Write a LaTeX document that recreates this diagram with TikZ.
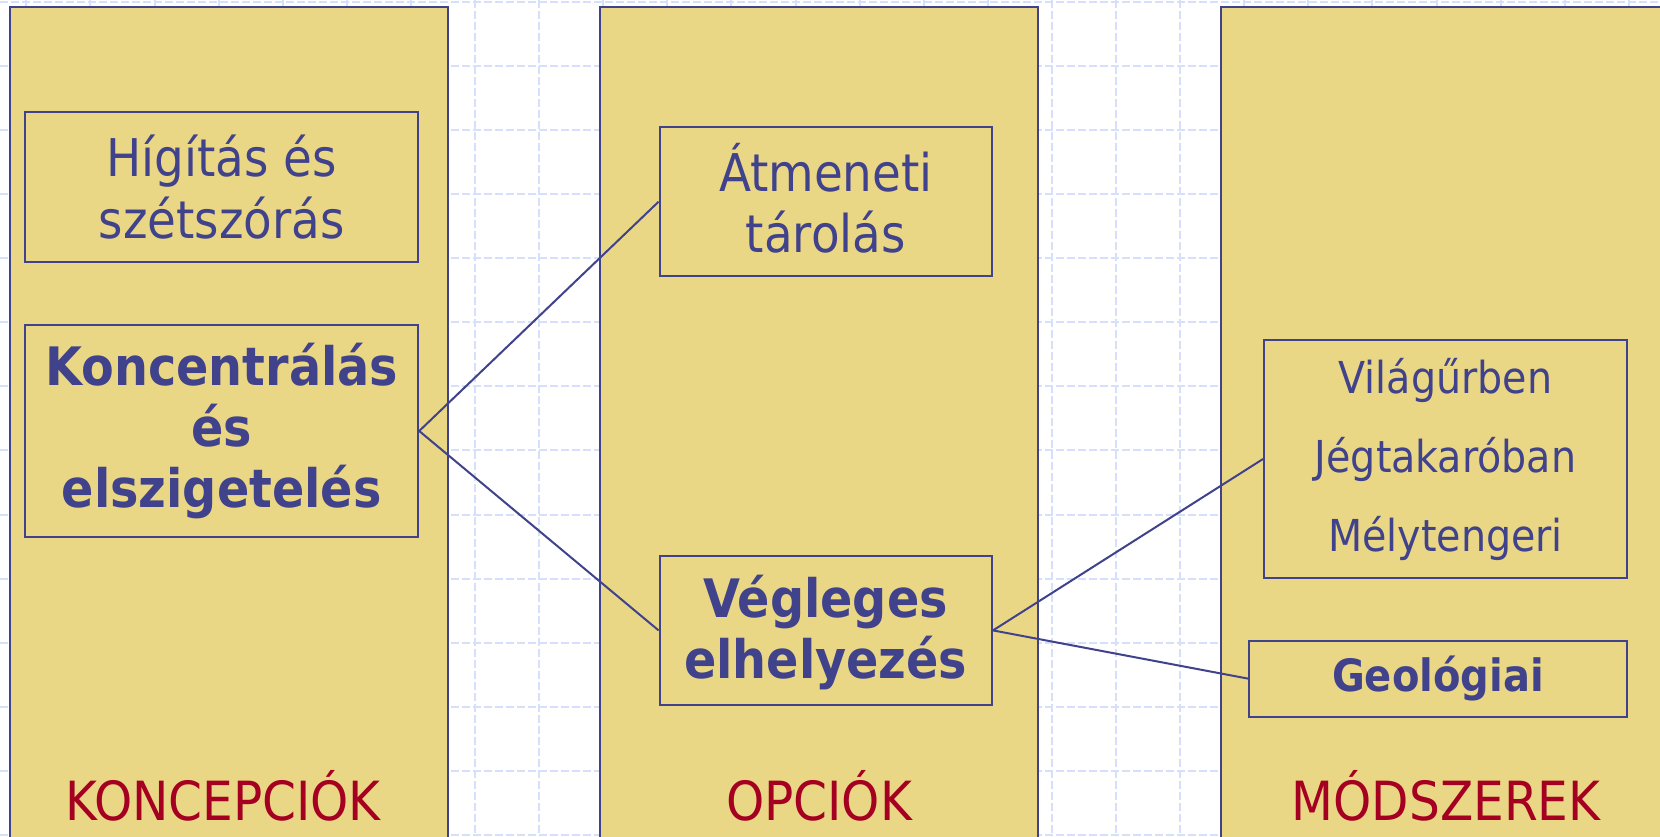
\documentclass[tikz,border=0pt]{standalone}
\usepackage{fontspec}
\setmainfont{DejaVu Sans Condensed}
\definecolor{panel}{RGB}{234,215,133}
\definecolor{ink}{RGB}{64,66,140}
\definecolor{title}{RGB}{165,0,33}
\definecolor{gridblue}{RGB}{212,224,252}
\tikzset{
  gridline/.style={draw=gridblue, line width=2pt, dash pattern=on 8pt off 3pt},
  column/.style={draw=ink, fill=panel, line width=2.4pt, rectangle, anchor=north west, inner sep=0pt},
  itembox/.style={draw=ink, fill=panel, line width=2pt, rectangle, inner sep=0pt, align=center, text=ink},
  plaintext/.style={inner sep=0pt, align=center, text=ink},
  big/.style={font=\fontsize{52}{61.4}\selectfont},
  bigbold/.style={font=\fontsize{53}{61}\selectfont\bfseries},
  small/.style={font=\fontsize{44}{79}\selectfont},
  smallbold/.style={font=\fontsize{44.5}{50}\selectfont\bfseries},
  heading/.style={text=title, anchor=base, font=\fontsize{54}{60}\selectfont, inner sep=0pt},
  conn/.style={draw=ink, line width=2pt},
}
\begin{document}
\begin{tikzpicture}[x=1pt,y=-1pt]
\useasboundingbox (0,0) rectangle (1660,836);
\fill[white] (0,0) rectangle (1660,836);
% background grid
\foreach \k in {-7,...,18} {
  \draw[gridline] ({475+64.1*\k},0) -- ({475+64.1*\k},836);
}
\foreach \k in {0,...,13} {
  \draw[gridline] (0,{1.7+64.1*\k}) -- (1660,{1.7+64.1*\k});
}
% three columns
\node[column, minimum width=438pt, minimum height=860pt] (c1) at (9,6) {};
\node[column, minimum width=437.5pt, minimum height=860pt] (c2) at (599,6) {};
\node[column, minimum width=440pt, minimum height=860pt] (c3) at (1219.6,6) {};
% items
\node[itembox, big, minimum width=392.8pt, minimum height=149.3pt] (hig) at (221.8,186.9) {Hígítás és\\szétszórás};
\node[itembox, bigbold, minimum width=392.8pt, minimum height=211.8pt] (kon) at (221.8,431) {Koncentrálás\\és\\elszigetelés};
\node[itembox, minimum width=332.4pt, minimum height=149.3pt] (atm) at (825.8,201.7) {};
\node[plaintext, big] (atmtext) at (825.8,198.5) {Átmeneti\\tárolás};
\node[itembox, bigbold, minimum width=332.4pt, minimum height=149.2pt] (veg) at (825.8,630.4) {};
\node[plaintext, bigbold] (vegtext) at (825.8,633) {Végleges\\elhelyezés};
\node[itembox, small, minimum width=363pt, minimum height=238pt] (vil) at (1445.5,459) {Világűrben\\Jégtakaróban\\Mélytengeri};
\node[itembox, smallbold, minimum width=378pt, minimum height=76pt] (geo) at (1438,678.6) {Geológiai};
% connectors
\draw[conn] (kon.east) -- (atm.west);
\draw[conn] (kon.east) -- (veg.west);
\draw[conn] (veg.east) -- (vil.west);
\draw[conn] (veg.east) -- (geo.west);
% column headings
\node[heading] (h1) at (223,820.5) {KONCEPCIÓK};
\node[heading] (h2) at (819,820.5) {OPCIÓK};
\node[heading] (h3) at (1446,820.5) {MÓDSZEREK};
\end{tikzpicture}
\end{document}
